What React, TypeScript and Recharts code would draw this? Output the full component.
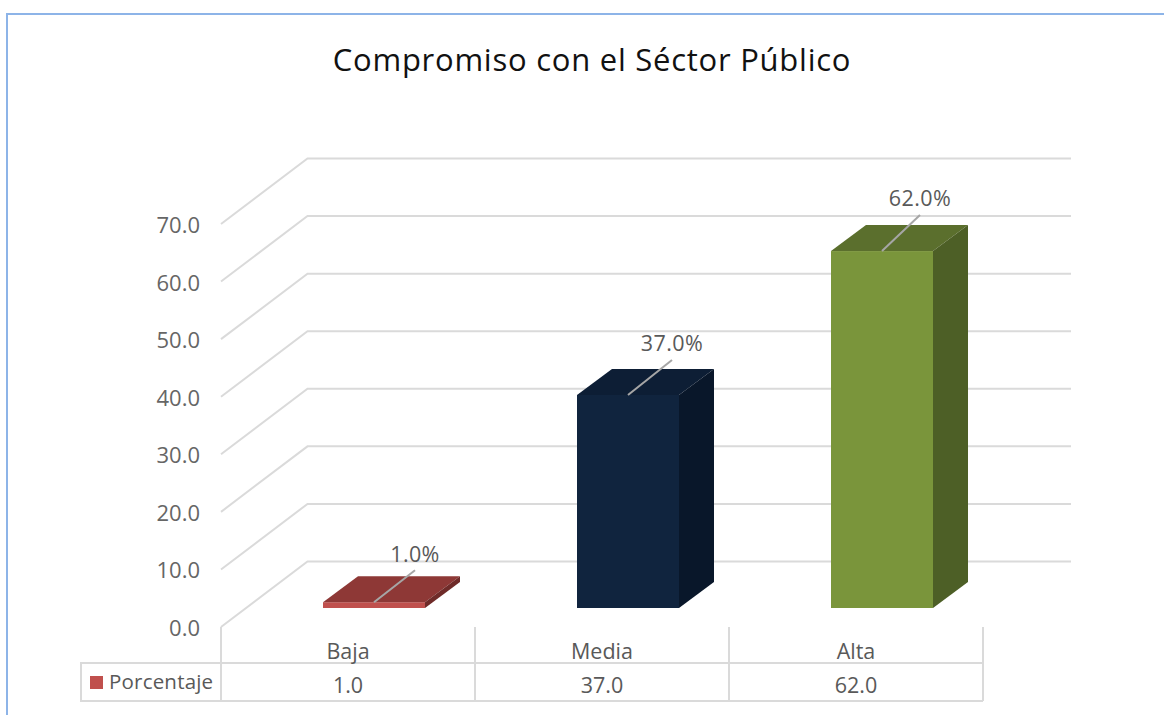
import React from "react";
import { BarChart, Bar, XAxis, YAxis, CartesianGrid, LabelList } from "recharts";

const TITLE = "Compromiso con el Séctor Público";
const SERIES_NAME = "Porcentaje";
const categories = ["Baja", "Media", "Alta"];
const values = [1.0, 37.0, 62.0];
const yTicks = [0, 10, 20, 30, 40, 50, 60, 70];

const frontColors = ["#C0504D", "#10243E", "#7A953B"];
const topColors = ["#8E3836", "#0D1E35", "#5B6F2D"];
const sideColors = ["#6F2B29", "#09172A", "#4D5F26"];
const leaderEnds = [
  { dx: 41, dy: -32, tx: 41, ty: -49 },
  { dx: 44, dy: -35, tx: 44, ty: -52 },
  { dx: 38, dy: -36, tx: 38, ty: -54 },
];

const data = categories.map((name, i) => ({ name, value: values[i] }));

const FONT = "'Open Sans', 'Noto Sans', sans-serif";
const TEXT = "#595959";
const GRID = "#DADADA";
const LINE = 2;
const DX = 35;
const DY = 26;
const WIDTH = 1164;
const HEIGHT = 715;

const GridLine = (p: any) => (
  <polyline
    key={p.key ?? p.index}
    points={`${p.x1 - 26},${p.y1 + 19} ${p.x1 + 60.5},${p.y1 - 46.5} ${p.x2 + 62},${p.y1 - 46.5}`}
    fill="none"
    stroke={GRID}
    strokeWidth={LINE}
  />
);

const Bar3D = (p: any) => {
  const { x, y, width: w, height: h, index } = p;
  return (
    <g>
      <rect x={x} y={y} width={w} height={h} fill={frontColors[index]} />
      <polygon
        points={`${x},${y} ${x + DX},${y - DY} ${x + w + DX},${y - DY} ${x + w},${y}`}
        fill={topColors[index]}
      />
      <polygon
        points={`${x + w},${y} ${x + w + DX},${y - DY} ${x + w + DX},${y + h - DY} ${x + w},${y + h}`}
        fill={sideColors[index]}
      />
    </g>
  );
};

const ValueLabel = (p: any) => {
  const { x, y, width: w, value, index } = p;
  const cx = x + w / 2;
  const l = leaderEnds[index];
  return (
    <g>
      <line x1={cx} y1={y} x2={cx + l.dx} y2={y + l.dy} stroke="#A6A6A6" strokeWidth={2} />
      <text
        x={cx + l.tx}
        y={y + l.ty}
        textAnchor="middle"
        dominantBaseline="central"
        fontFamily={FONT}
        fontSize={21.5}
        letterSpacing={0.4}
        fill={TEXT}
      >
        {`${Number(value).toFixed(1)}%`}
      </text>
    </g>
  );
};

const YTick = (p: any) => (
  <text
    x={200}
    y={p.y + 19}
    textAnchor="end"
    dominantBaseline="central"
    fontFamily={FONT}
    fontSize={22}
    fill="#666666"
  >
    {Number(p.payload.value).toFixed(1)}
  </text>
);

const TableTick = (p: any) => {
  const { x, index, payload } = p;
  const c = x - 26;
  const left = c - 127;
  const right = c + 127;
  return (
    <g>
      <line x1={left} y1={627} x2={left} y2={701} stroke={GRID} strokeWidth={LINE} />
      <line x1={right} y1={627} x2={right} y2={701} stroke={GRID} strokeWidth={LINE} />
      <line x1={left} y1={663} x2={right} y2={663} stroke={GRID} strokeWidth={LINE} />
      <line x1={left} y1={701} x2={right} y2={701} stroke={GRID} strokeWidth={LINE} />
      <text x={c} y={650} textAnchor="middle" dominantBaseline="central" fontFamily={FONT} fontSize={21.5} fill={TEXT}>
        {payload.value}
      </text>
      <text x={c} y={684} textAnchor="middle" dominantBaseline="central" fontFamily={FONT} fontSize={21.5} fill={TEXT}>
        {values[index].toFixed(1)}
      </text>
      {index === 0 && (
        <g>
          <line x1={81} y1={663} x2={left} y2={663} stroke={GRID} strokeWidth={LINE} />
          <line x1={81} y1={701} x2={left} y2={701} stroke={GRID} strokeWidth={LINE} />
          <line x1={81} y1={662} x2={81} y2={702} stroke={GRID} strokeWidth={LINE} />
          <rect x={90} y={676} width={13} height={13} fill={frontColors[0]} />
          <text x={109} y={681} dominantBaseline="central" fontFamily={FONT} fontSize={20.5} letterSpacing={0.2} fill={TEXT}>
            {SERIES_NAME}
          </text>
        </g>
      )}
    </g>
  );
};

export default function App() {
  return (
    <div style={{ position: "absolute", left: 0, top: 0, width: WIDTH, height: HEIGHT, background: "#fff", overflow: "hidden" }}>
      <div style={{ position: "absolute", left: 6, top: 13, width: WIDTH, height: HEIGHT, borderLeft: "2.5px solid #8DB4E8", borderTop: "2.5px solid #8DB4E8" }} />
      <div
        style={{
          position: "absolute",
          left: 0,
          width: 1184,
          top: 38,
          textAlign: "center",
          fontFamily: FONT,
          fontSize: 31,
          letterSpacing: 0.75,
          lineHeight: "42px",
          color: "#111",
          whiteSpace: "nowrap",
        }}
      >
        {TITLE}
      </div>
      <div style={{ position: "absolute", left: 0, top: 0 }}>
        <BarChart
          width={WIDTH}
          height={HEIGHT}
          data={data}
          margin={{ top: 205, right: 155, bottom: 0, left: 207 }}
          barSize={102}
        >
          <CartesianGrid vertical={false} horizontal={GridLine as any} />
          <XAxis dataKey="name" height={107} axisLine={false} tickLine={false} tick={TableTick as any} interval={0} />
          <YAxis width={40} domain={[0, 70]} ticks={yTicks} axisLine={false} tickLine={false} tick={YTick as any} interval={0} />
          <Bar dataKey="value" isAnimationActive={false} shape={Bar3D as any}>
            <LabelList dataKey="value" content={ValueLabel as any} />
          </Bar>
        </BarChart>
      </div>
    </div>
  );
}
